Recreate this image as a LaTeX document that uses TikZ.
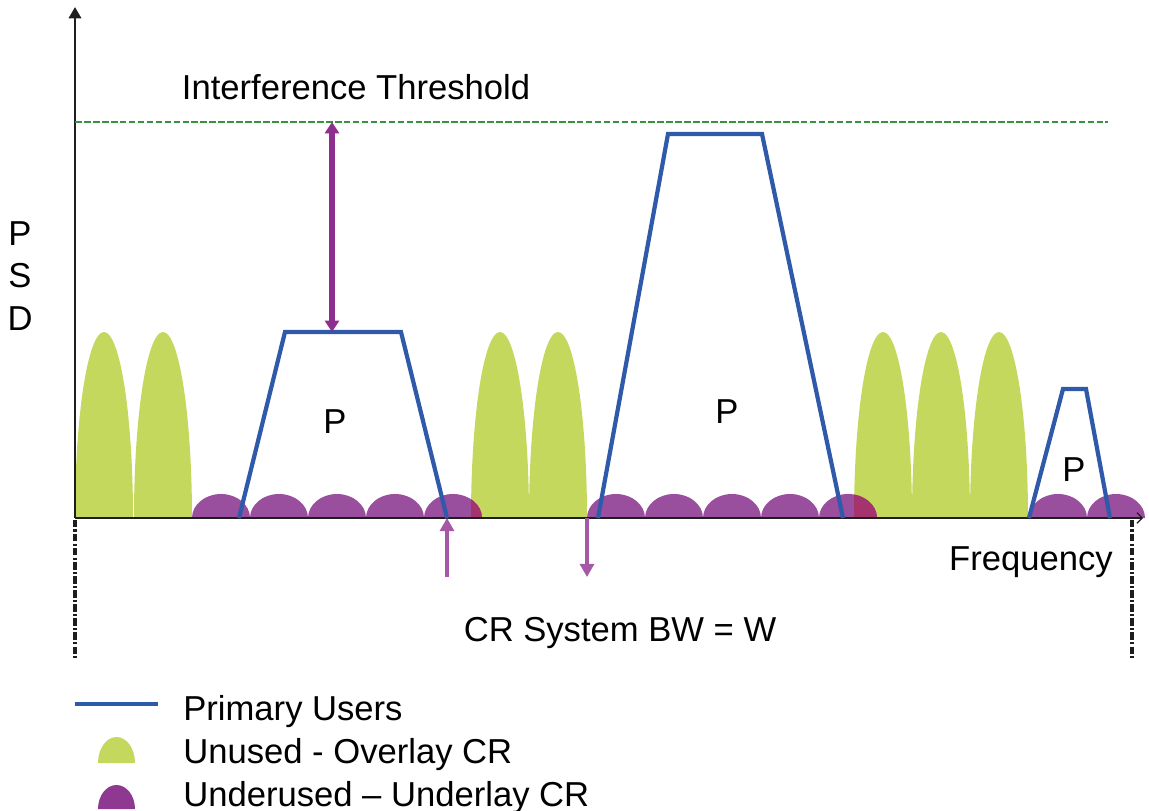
\documentclass[tikz,border=0pt]{standalone}
\usepackage{fontspec}
\setmainfont{Liberation Sans}
\usepackage{xcolor}
\usetikzlibrary{arrows.meta}

\definecolor{overlaygreen}{RGB}{197,216,94}
\definecolor{underlaypurple}{RGB}{154,78,158}
\definecolor{legendpurple}{RGB}{142,56,145}
\definecolor{clashred}{RGB}{165,52,110}
\definecolor{primaryblue}{RGB}{47,90,170}
\definecolor{thresholdgreen}{RGB}{56,145,60}
\definecolor{markerpurple}{RGB}{142,46,142}
\definecolor{axisgray}{RGB}{30,30,30}

\begin{document}
\begin{tikzpicture}[
  x=0.02cm,y=-0.02cm,
  font=\fontsize{19.7}{24.2}\selectfont,
  caption/.style={inner sep=0pt,anchor=base},
  legendtext/.style={inner sep=0pt,anchor=base west},
  axisline/.style={draw=axisgray,line width=1.7pt},
  freeband/.style={fill=overlaygreen},
  sharedband/.style={fill=underlaypurple},
  primary/.style={draw=primaryblue,line width=2.4pt},
  threshold/.style={draw=thresholdgreen,line width=0.8pt,dash pattern=on 3.8pt off 1.3pt},
  bwlimit/.style={draw=axisgray,line width=1.8pt,dash pattern=on 4.2pt off 1.2pt on 1.4pt off 1.2pt},
  headroom/.style={draw=markerpurple,line width=3.1pt,{Triangle[length=6.5pt,width=8pt]}-{Triangle[length=6.5pt,width=8pt]}},
  bandedge/.style={draw=markerpurple!80!white,line width=1.8pt,-{Triangle[length=7.5pt,width=8pt]}}
]
\path[use as bounding box] (0,0) rectangle (1149,811);

\foreach \x in {75,134,471,529,854,912,970}
  \fill[freeband] (\x,518) arc[start angle=180,end angle=360,x radius=29,y radius=186] -- cycle;
\foreach \x in {192,250,308,366,424,587,645,703,761,819,1029,1087}
  \fill[sharedband] (\x,518) arc[start angle=180,end angle=360,x radius=29,y radius=24] -- cycle;
\foreach \lobe/\dome in {471/424,854/819}{
  \begin{scope}
    \clip (\lobe,518) arc[start angle=180,end angle=360,x radius=29,y radius=186] -- cycle;
    \fill[clashred] (\dome,518) arc[start angle=180,end angle=360,x radius=29,y radius=24] -- cycle;
  \end{scope}}

\coordinate (origin) at (75,518);
\coordinate (psdtop) at (75,7);
\coordinate (freqend) at (1143,518);
\draw[axisline,-{Triangle[length=6.5pt,width=7pt]}] (origin) -- (psdtop);
\draw[axisline,-{Straight Barb[length=3pt,width=6pt,line width=0.7pt]}] (origin) -- (freqend);

\coordinate (thrstart) at (75,122);
\coordinate (thrend) at (1108,122);
\draw[threshold] (thrstart) -- (thrend);

\coordinate (pu1left) at (239,518);
\coordinate (pu1right) at (447,518);
\coordinate (pu1peak) at (332,332);
\draw[primary] (pu1left) -- (285,332) -- (401,332) -- (pu1right);
\draw[primary] (598,518) -- (668,134) -- (762,134) -- (843,518);
\draw[primary] (1029,518) -- (1063,389) -- (1086,389) -- (1110,518);

\coordinate (limit) at (332,122);
\draw[headroom] (limit) -- (pu1peak);

\coordinate (lowtail) at (447,577);
\coordinate (highcut) at (587,518);
\coordinate (hightail) at (587,577);
\draw[bandedge] (lowtail) -- (pu1right);
\draw[bandedge] (highcut) -- (hightail);

\coordinate (bwleft) at (75,520);
\coordinate (bwleftend) at (75,660);
\coordinate (bwright) at (1132,520);
\coordinate (bwrightend) at (1132,660);
\draw[bwlimit] (bwleft) -- (bwleftend);
\draw[bwlimit] (bwright) -- (bwrightend);

\node[caption] (thrlabel) at (356,100) {Interference Threshold};
\node[inner sep=0pt,align=center] (psd) at (20,276) {P\\S\\D};
\node[inner sep=0pt] (pu1) at (335,422) {P};
\node[inner sep=0pt] (pu2) at (727,412) {P};
\node[inner sep=0pt] (pu3) at (1074,470) {P};
\node[caption] (freq) at (1031,570) {Frequency};
\node[caption] (bw) at (620,641) {CR System BW = W};

\draw[primary,line width=2.8pt] (75,704) -- (158,704);
\fill[freeband] (98,763) arc[start angle=180,end angle=360,x radius=18.5,y radius=26] -- cycle;
\fill[legendpurple] (98,809) arc[start angle=180,end angle=360,x radius=18.5,y radius=24] -- cycle;
\node[legendtext] (keyprimary) at (183,720) {Primary Users};
\node[legendtext] (keyoverlay) at (183,763) {Unused - Overlay CR};
\node[legendtext] (keyunderlay) at (183,806) {Underused – Underlay CR};
\end{tikzpicture}
\end{document}
